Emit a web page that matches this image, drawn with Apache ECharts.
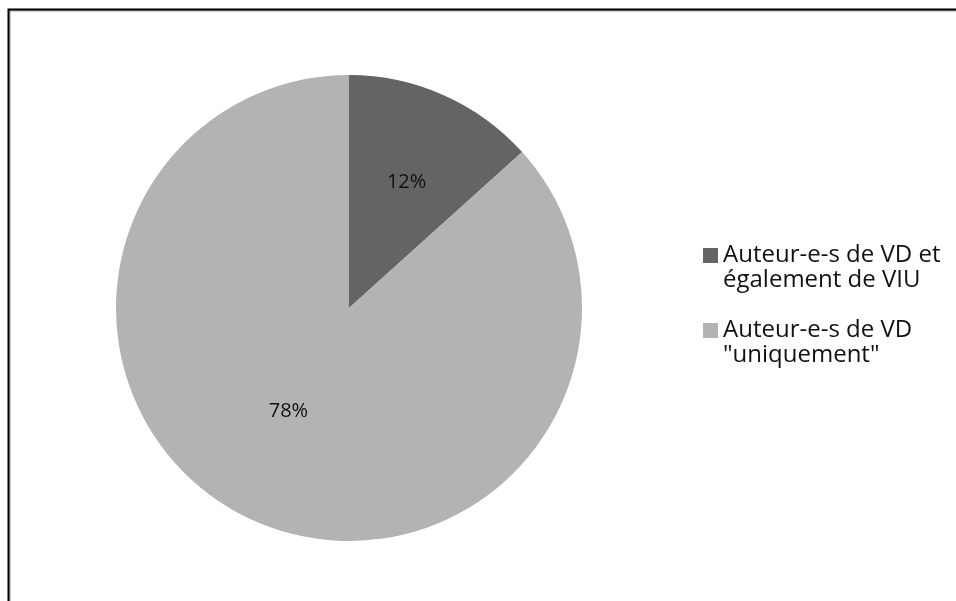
<!DOCTYPE html>
<html>
<head>
<meta charset="utf-8">
<script src="https://cdn.jsdelivr.net/npm/echarts@6/dist/echarts.min.js"></script>
<style>
  html, body { margin: 0; padding: 0; background: #fff; }
  #chart { width: 956px; height: 601px; }
</style>
</head>
<body>
<div id="chart"></div>
<script>
// Categories and their shares (percent)
const categories = [
  'Auteur-e-s de VD et\négalement de VIU',
  'Auteur-e-s de VD\n"uniquement"'
];
const values = [12, 78];
const colors = ['#646464', '#b3b3b3'];
// label nudges so the numbers sit where the author placed them
const labelOffsets = [[9, -17], [-12, -6]];

const chart = echarts.init(document.getElementById('chart'), null, { renderer: 'canvas' });

const fontFamily = '"Open Sans", "Noto Sans", sans-serif';

chart.setOption({
  animation: false,
  backgroundColor: '#fff',
  graphic: [
    {
      type: 'polyline',
      shape: { points: [[8.5, 700], [8.5, 9.5], [1000, 9.5]] },
      style: { stroke: '#000', lineWidth: 2, fill: null,
               shadowColor: 'rgba(0,0,0,0.35)', shadowOffsetX: 1, shadowOffsetY: 1, shadowBlur: 1 },
      z: 10
    }
  ],
  legend: {
    orient: 'vertical',
    left: 703,
    top: 218,
    padding: 0,
    itemWidth: 15,
    itemHeight: 15,
    itemGap: 0,
    icon: 'rect',
    // a leading blank line keeps the first text line level with the swatch
    formatter: name => '\n' + name,
    textStyle: { fontFamily, fontSize: 24, color: '#111', lineHeight: 25 },
    data: categories
  },
  series: [{
    type: 'pie',
    center: [349, 308],
    radius: 233,
    startAngle: 90,
    clockwise: true,
    silent: true,
    label: {
      show: true,
      position: 'inside',
      formatter: '{c}%',
      fontFamily,
      fontSize: 20,
      color: '#111'
    },
    labelLine: { show: false },
    itemStyle: { borderWidth: 0 },
    data: categories.map((name, i) => ({
      name,
      value: values[i],
      itemStyle: { color: colors[i] },
      label: { offset: labelOffsets[i] }
    }))
  }]
});
</script>
</body>
</html>
